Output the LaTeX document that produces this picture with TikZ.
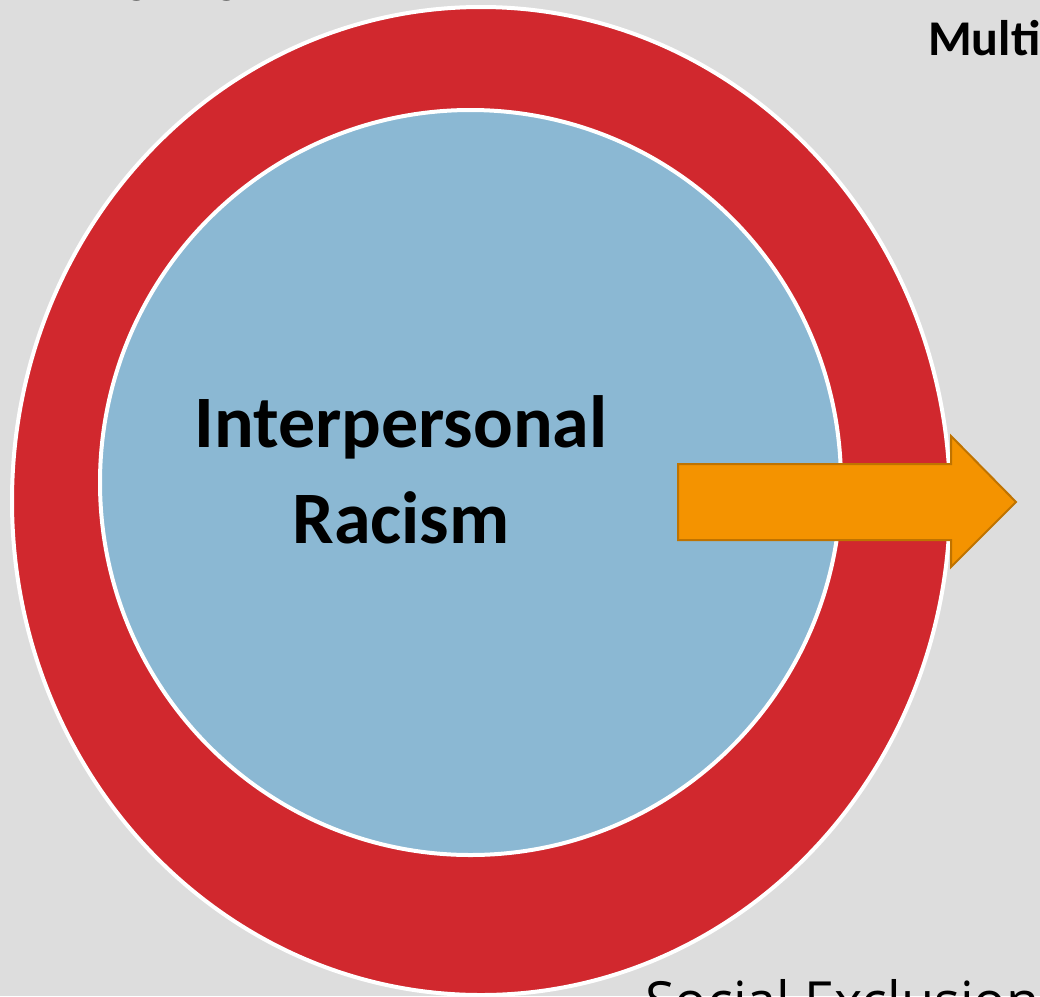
\documentclass[tikz,border=0pt]{standalone}
\usepackage{fontspec}
\setmainfont{Carlito}
\newfontfamily\labelsans{Open Sans}
\definecolor{bgGrey}{HTML}{DDDDDD}
\definecolor{ringRed}{HTML}{D1282E}
\definecolor{coreBlue}{HTML}{8BB8D3}
\definecolor{arrowFill}{HTML}{F49300}
\definecolor{arrowEdge}{HTML}{BF7300}
\tikzset{
  ring/.style={fill=ringRed, draw=white, line width=4pt},
  core/.style={fill=coreBlue, draw=white, line width=4pt},
  flow/.style={fill=arrowFill, draw=arrowEdge, line width=2pt, line join=miter},
  heading/.style={font=\bfseries\fontsize{50}{60}\selectfont, inner sep=0pt},
  centre label/.style={font=\bfseries\fontsize{74}{96}\selectfont, align=center, inner sep=0pt},
  side label/.style={font=\labelsans\fontsize{54}{64}\selectfont, inner sep=0pt}
}
\begin{document}
\begin{tikzpicture}[x=1pt,y=-1pt]
  \useasboundingbox (0,0) rectangle (1040,996);
  \clip (0,0) rectangle (1040,996);
  \fill[bgGrey] (0,0) rectangle (1040,996);

  % nested levels
  \draw[ring] (481,501) ellipse [x radius=469, y radius=494];
  \draw[core] (470.5,482.5) ellipse [x radius=370.5, y radius=372.5];

  % outward arrow
  \draw[flow] (678,464) -- (951,464) -- (951,436) -- (1016,502)
              -- (951,567) -- (951,540) -- (678,540) -- cycle;

  \node[centre label] (core) at (401,469.5) {Interpersonal\\Racism};

  \node[heading, anchor=base west] (topleft) at (65,-8) {Ongoing};
  \node[heading, anchor=base west] (topright) at (928,55) {Multi};
  \node[side label, anchor=base west] (bottom) at (645,1020) {Social Exclusion};
\end{tikzpicture}
\end{document}
